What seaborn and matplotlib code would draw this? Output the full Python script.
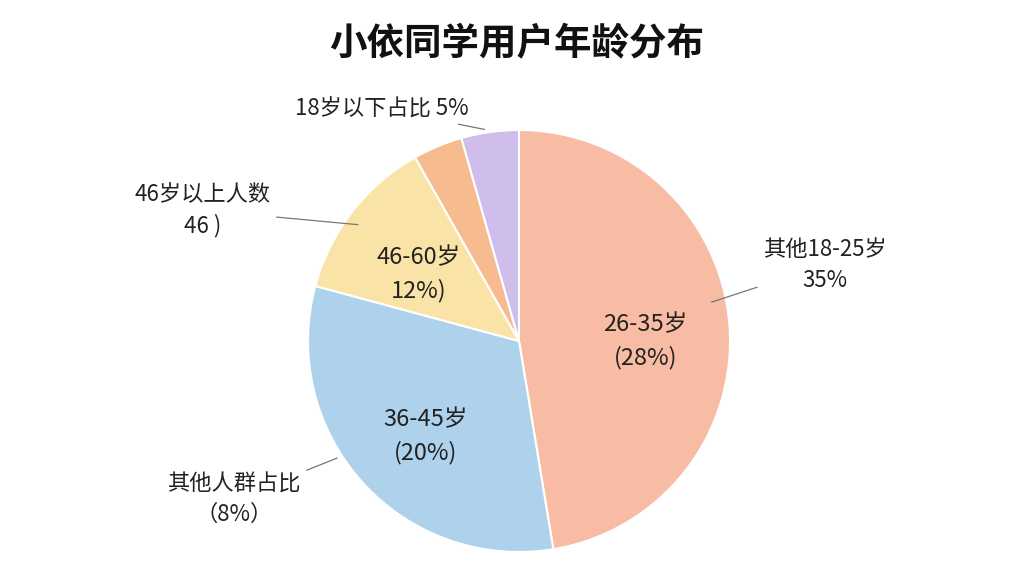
import matplotlib
matplotlib.use("Agg")
import matplotlib.pyplot as plt
import numpy as np
import seaborn as sns

# data (clockwise from 12 o'clock)
age_groups = ["26-35岁", "36-45岁", "46-60岁", "61岁以上", "18岁以下"]
shares = [47.4, 31.8, 12.6, 3.8, 4.4]
inner_labels = ["26-35岁\n(28%)", "36-45岁\n(20%)", "46-60岁\n12%)", "", ""]
slice_colors = ["#F8BBA3", "#AED2EC", "#F9E3A6", "#F6BC8F", "#CFBDEB"]

sns.set_theme(style="white")
plt.rcParams['font.family'] = ['Noto Sans CJK SC', 'DejaVu Sans']

fig = plt.figure(figsize=(10.24, 5.76), dpi=100)
fig.patch.set_facecolor("white")
cx, cy, r = 519, 341, 211
ax = fig.add_axes([(cx - r) / 1024, (576 - cy - r) / 576, 2 * r / 1024, 2 * r / 576])

wedges, _ = ax.pie(shares, colors=slice_colors, startangle=90, counterclock=False,
                   wedgeprops=dict(edgecolor="white", linewidth=1.5))
ax.set_xlim(-1, 1)
ax.set_ylim(-1, 1)
ax.set_aspect("equal")
ax.axis("off")

# inner labels
for w, lab in zip(wedges, inner_labels):
    if not lab:
        continue
    ang = np.deg2rad((w.theta1 + w.theta2) / 2)
    ax.text(0.6 * np.cos(ang), 0.6 * np.sin(ang) - 0.05, lab, ha="center", va="center",
            fontsize=17, color="#222222", linespacing=1.5)

# outer callouts
callouts = [
    ("18岁以下占比 5%", (-0.15, 1.0), (-0.65, 1.1), "left"),
    ("其他18-25岁\n35%", (0.9, 0.18), (1.45, 0.36), "center"),
    ("46岁以上人数\n46 )", (-0.75, 0.55), (-1.5, 0.62), "center"),
    ("其他人群占比\n（8%）", (-0.85, -0.55), (-1.35, -0.75), "center"),
]
for txt, xy, xyt, ha in callouts:
    ax.annotate(txt, xy=xy, xytext=xyt, ha="center", va="center", fontsize=16,
                color="#222222", linespacing=1.4, annotation_clip=False,
                arrowprops=dict(arrowstyle="-", color="#777777", lw=0.9))

fig.text(0.505, 0.925, "小依同学用户年龄分布", ha="center", va="center",
         fontsize=27, fontweight="bold", color="#111111")

fig.savefig("out.png", dpi=100)
